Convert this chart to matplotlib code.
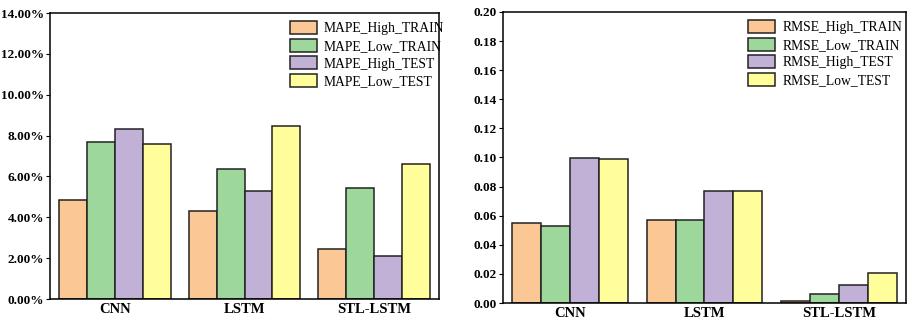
import matplotlib
matplotlib.use("Agg")
import matplotlib.pyplot as plt
import numpy as np
from matplotlib.ticker import FuncFormatter

plt.rcParams['font.family'] = ['Liberation Serif', 'DejaVu Serif']

models = ["CNN", "LSTM", "STL-LSTM"]

# MAPE values (%)
mape_high_train = [4.86, 4.31, 2.43]
mape_low_train = [7.70, 6.37, 5.44]
mape_high_test = [8.34, 5.31, 2.11]
mape_low_test = [7.61, 8.47, 6.61]

# RMSE values
rmse_high_train = [0.0548, 0.0567, 0.0016]
rmse_low_train = [0.0528, 0.0567, 0.0065]
rmse_high_test = [0.0999, 0.0767, 0.0127]
rmse_low_test = [0.0990, 0.0767, 0.0207]

colors = ["#FBC795", "#9DD79C", "#C2B1D6", "#FFFE9A"]
w = 0.215
x = np.arange(len(models))

fig = plt.figure(figsize=(9.09, 3.22), dpi=100)
ax1 = fig.add_axes([0.055, 0.0714, 0.428, 0.888])
ax2 = fig.add_axes([0.553, 0.059, 0.444, 0.904])


def draw(ax, series, labels, anchor):
    for i, (vals, lab) in enumerate(zip(series, labels)):
        ax.bar(x + (i - 1.5) * w, vals, w, color=colors[i], edgecolor="#222222",
               linewidth=1.1, label=lab)
    ax.set_xlim(-0.5, 2.5)
    ax.set_xticks(x)
    ax.set_xticklabels(models, fontweight="bold", fontsize=10.5)
    ax.tick_params(axis="x", length=0, pad=3)
    ax.tick_params(axis="y", direction="out", length=3, labelsize=9.5, pad=1)
    for s in ax.spines.values():
        s.set_linewidth(1.1)
    ax.legend(loc="upper right", bbox_to_anchor=(anchor, 1.0), frameon=False,
              fontsize=9.8, handlelength=2.0, handleheight=1.1,
              labelspacing=0.25, handletextpad=0.5, borderaxespad=0.2)


draw(ax1, [mape_high_train, mape_low_train, mape_high_test, mape_low_test],
     ["MAPE_High_TRAIN", "MAPE_Low_TRAIN", "MAPE_High_TEST", "MAPE_Low_TEST"], 1.035)
ax1.set_ylim(0, 14)
ax1.set_yticks(np.arange(0, 14.1, 2))
ax1.yaxis.set_major_formatter(FuncFormatter(lambda v, p: f"{v:.2f}%"))
for lbl in ax1.get_yticklabels():
    lbl.set_fontweight("bold")

draw(ax2, [rmse_high_train, rmse_low_train, rmse_high_test, rmse_low_test],
     ["RMSE_High_TRAIN", "RMSE_Low_TRAIN", "RMSE_High_TEST", "RMSE_Low_TEST"], 1.01)
ax2.set_ylim(0, 0.2)
ax2.set_yticks(np.arange(0, 0.201, 0.02))
ax2.yaxis.set_major_formatter(FuncFormatter(lambda v, p: f"{v:.2f}"))
for lbl in ax2.get_yticklabels():
    lbl.set_fontweight("bold")

fig.savefig("out.png", dpi=100)
